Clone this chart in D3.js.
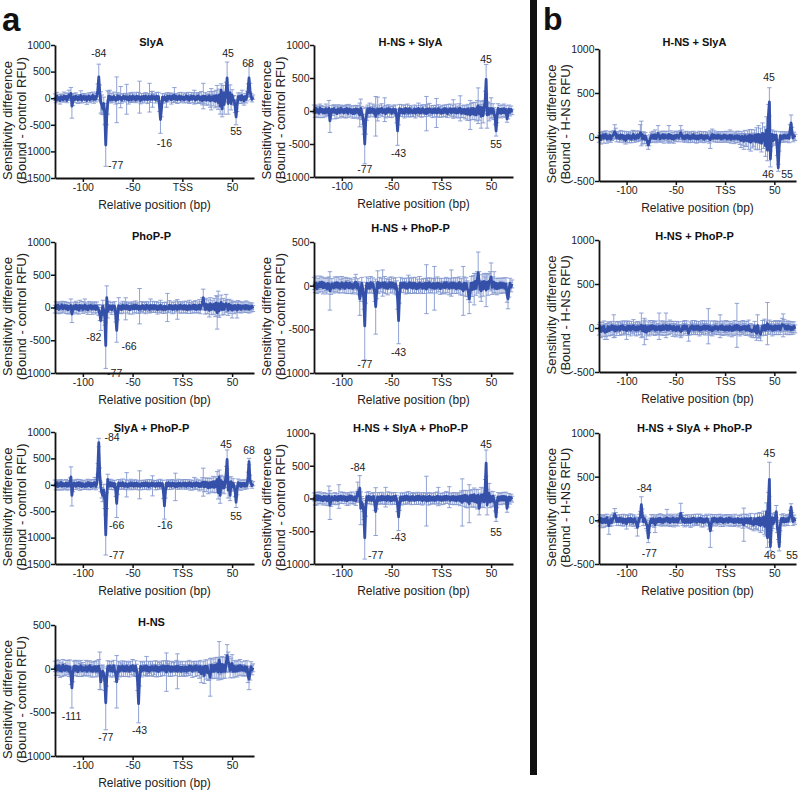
<!DOCTYPE html>
<html>
<head>
<meta charset="utf-8">
<script src="https://cdn.jsdelivr.net/npm/d3@7"></script>
<style>
body { margin: 0; background: #fff; }
svg { font-family: Arial, "Liberation Sans", Helvetica, sans-serif; }
</style>
</head>
<body>
<script>
// positions in bp relative to TSS, one value per position
const positions = d3.range(-128, 72)
const xTicks = [-100, -50, 0, 50]

// ---- a: SlyA ----
const slyaVals = [
  20,-35,40,-20,10,-45,30,5,-30,45,            // -128
  -10,35,-40,25,60,20,90,-150,-60,30,          // -118
  -25,40,10,-35,25,-15,50,-40,20,35,           // -108
  -20,30,-45,15,40,-30,25,-10,55,-25,          // -98
  30,-20,45,150,400,100,-80,-120,-200,-100,    // -88
  -300,-880,-350,-80,40,40,-30,20,-25,35,      // -78
  15,-40,-30,45,-20,30,20,-35,10,40,           // -68
  -15,30,-20,25,-40,35,10,-30,45,-10,          // -58
  20,-35,40,-15,30,20,-45,25,-20,35,           // -48
  -25,40,15,-30,35,10,-20,45,-20,30,           // -38
  25,-30,40,-10,30,-150,-400,-200,20,-35,      // -28
  30,-25,-50,35,-15,40,20,-30,45,-10,          // -18
  60,-20,35,-30,15,40,-25,30,-10,20,           // -8
  -30,25,45,-15,30,-40,20,35,-20,40,           // 2
  20,-35,30,-20,45,10,-30,25,-45,40,           // 12
  -25,35,-40,20,-30,45,-50,-20,30,-35,         // 22
  40,-60,50,40,-80,60,-150,150,-200,100,       // 32
  -120,30,150,380,-100,40,100,-100,60,-40,     // 42
  -40,-150,-350,-150,30,-20,40,-30,50,-25,     // 52
  -50,30,-20,40,150,380,150,30,-20,20          // 62
]
const slyaErrs = [
  60,50,70,40,55,65,50,60,45,70,
  50,60,45,70,90,60,110,225,80,60,
  55,60,50,65,45,70,90,50,60,55,
  60,50,70,45,60,55,80,50,60,70,
  60,50,70,120,240,150,200,180,110,120,
  200,400,150,220,80,110,60,70,50,80,
  60,70,430,60,80,50,200,60,70,50,
  55,60,280,50,70,60,90,50,65,55,
  60,50,70,55,80,300,60,65,70,50,
  50,65,60,70,55,270,60,80,150,50,
  55,60,70,50,80,100,260,150,65,60,
  60,50,120,70,55,60,65,80,50,70,
  140,60,55,70,50,65,60,80,55,60,
  60,70,55,65,80,60,50,70,65,60,
  130,60,70,80,60,90,70,100,80,240,
  80,70,90,60,100,80,120,200,90,110,
  90,120,100,200,130,110,150,120,150,140,
  180,100,150,300,200,90,150,120,100,80,
  90,120,150,100,70,80,60,70,100,60,
  80,60,70,90,120,260,130,60,50,40
]
const slyaLabels = [['-84', -84, 850], ['-77', -67, -1270], ['-16', -18, -840], ['45', 46, 844], ['55', 54, -620], ['68', 66, 660]]

// ---- a: H-NS + SlyA ----
const hnsSlyaVals = [
  30,-25,40,-15,20,-35,45,-10,25,-30,
  15,-30,35,-20,10,40,-150,-40,25,-15,
  35,-20,10,-40,30,15,-25,40,-10,20,
  -30,25,-15,40,-35,20,30,-25,15,-40,
  20,-35,30,-15,25,-40,-60,40,-30,-80,
  -200,-500,-150,-40,30,-25,40,-20,15,35,
  -30,20,-80,-20,30,-35,25,-10,40,-25,
  15,20,-40,30,-20,35,-15,25,-35,10,
  30,-25,20,-80,-300,-90,35,-20,25,-30,
  20,-35,40,-15,25,-30,35,-20,15,-25,
  -20,30,-35,25,-15,40,-30,20,-25,35,
  15,-30,25,-40,30,-20,35,-15,20,-30,
  25,-20,30,-30,-25,35,-20,15,-35,20,
  -25,35,-15,30,-40,20,-10,35,-30,25,
  30,-20,35,-30,15,-25,40,40,-35,20,
  -30,25,-40,20,-50,30,-45,-60,35,-40,
  40,-50,30,-60,50,80,-40,60,-80,50,
  -70,60,150,480,-60,40,-50,30,40,-30,
  30,-40,-100,-300,-80,40,-30,25,-35,30,
  -25,35,-30,20,-120,-40,30,-20,25,-15
]
const hnsSlyaErrs = [
  60,70,50,80,55,65,60,90,50,70,
  55,60,70,50,65,120,175,80,60,55,
  60,100,55,70,65,60,80,50,75,60,
  70,60,90,55,60,80,50,65,60,70,
  60,70,55,90,60,80,180,140,100,120,
  150,300,200,100,60,70,80,60,55,70,
  60,70,300,80,180,60,65,55,70,60,
  60,180,65,55,70,60,80,50,65,60,
  60,55,70,100,220,120,65,60,70,55,
  60,70,55,65,80,60,50,70,60,55,
  65,60,70,55,60,80,50,65,70,60,
  60,55,70,260,65,60,80,55,60,70,
  60,70,55,220,65,60,75,55,60,65,
  60,55,70,65,60,80,55,70,60,65,
  140,60,70,65,60,80,70,190,65,60,
  70,65,80,60,90,70,100,220,80,90,
  90,80,100,90,110,270,100,90,180,100,
  110,100,150,225,200,90,100,80,160,70,
  80,90,100,80,100,70,65,60,70,60,
  60,70,65,60,50,80,60,55,50,40
]
const hnsSlyaLabels = [['45', 45, 790], ['-77', -77, -890], ['-43', -43, -635], ['55', 55, -510]]

// ---- b: H-NS + SlyA (vs H-NS) ----
const bHnsSlyaVals = [
  -20,15,-30,10,25,-15,20,30,-25,5,
  -15,20,-25,10,15,30,60,40,-10,20,
  15,-20,25,-10,20,-25,10,-40,15,-15,
  20,-15,10,-25,15,30,-20,10,-15,25,
  -10,20,50,40,-20,15,-25,10,-30,-50,
  -90,-60,-20,15,-10,20,-15,25,-20,10,
  40,10,-20,15,-10,25,-15,20,-5,15,
  -15,30,-10,20,-20,10,-25,15,-10,20,
  15,-10,20,50,25,-15,10,-20,15,-10,
  20,-15,10,-20,15,-10,25,-15,10,-20,
  10,-20,15,-10,20,-15,10,-25,15,-10,
  15,-10,-20,-30,10,30,-15,20,-10,15,
  -15,20,-10,15,-20,10,-15,20,-10,15,
  -20,10,-15,20,-25,15,-10,-20,10,-15,
  15,-20,10,-25,-40,10,-30,-50,15,-35,
  -40,10,-50,20,-60,15,-45,-30,20,-55,
  25,-50,30,-60,20,-70,40,-40,30,-100,
  80,-150,250,400,-250,-50,30,-40,20,-30,
  20,-150,-350,-100,15,-20,10,-15,20,-10,
  15,-10,20,-15,80,160,50,-10,15,-5
]
const bHnsSlyaErrs = [
  40,35,50,45,40,55,40,40,45,40,
  40,45,35,50,40,45,80,60,45,40,
  45,40,50,35,45,40,55,40,45,50,
  40,50,45,40,55,45,40,50,40,45,
  40,45,90,140,60,45,50,40,45,50,
  50,40,45,40,50,45,40,55,45,40,
  90,45,40,50,45,40,55,45,40,50,
  45,100,40,50,45,40,45,50,40,45,
  40,45,50,80,55,40,45,40,50,45,
  40,50,45,40,45,50,40,45,40,50,
  45,40,50,45,40,45,50,40,45,40,
  40,45,50,100,45,60,40,50,45,40,
  45,40,50,45,40,50,45,40,45,50,
  40,50,45,60,45,50,40,55,45,50,
  50,45,55,60,80,50,70,90,60,70,
  70,60,90,65,100,70,80,75,60,90,
  80,90,100,85,80,100,120,90,85,120,
  150,120,120,160,90,60,50,55,45,50,
  45,60,40,60,45,40,50,45,40,45,
  40,45,40,50,60,90,60,45,40,35
]
const bHnsSlyaLabels = [['45', 44.6, 678], ['46', 43.6, -424], ['55', 63, -424]]

// ---- a: PhoP-P ----
const phopVals = [
  -25,30,-15,35,-30,20,-10,40,-20,15,
  30,-20,25,-35,15,-10,30,-100,-30,20,
  -15,35,-25,20,-40,30,-10,25,-30,15,
  40,-20,15,-35,25,-10,30,-25,20,-15,
  25,-30,20,-15,-40,-100,-200,-80,20,-40,
  -150,-580,150,-60,30,-20,20,-35,25,-10,
  20,-120,-350,-100,30,-25,15,-30,35,-15,
  25,-20,30,-15,20,-35,10,25,-20,30,
  -20,35,-15,25,-30,20,-25,15,30,-20,
  15,-25,35,-10,20,-30,30,-15,25,-20,
  30,-15,20,-35,15,-20,35,-25,10,-30,
  20,-30,15,0,-20,35,-15,25,-30,20,
  -25,30,-10,-30,25,-20,35,-15,20,-25,
  30,-20,25,-35,15,30,-25,20,-15,35,
  -20,35,-30,20,-15,40,-25,30,60,150,
  40,-30,50,-20,35,-45,60,-30,40,-20,
  50,-40,70,-80,60,-50,40,80,-30,50,
  -30,40,60,30,-40,50,-20,30,-40,20,
  -25,30,-20,-40,35,-15,25,-30,20,-10,
  25,-20,30,-15,20,-25,15,-10,20,-15
]
const phopErrs = [
  60,55,70,50,65,60,75,55,60,70,
  60,70,55,65,60,80,100,130,70,60,
  65,60,70,55,60,80,55,65,60,70,
  90,60,55,70,65,60,55,80,60,65,
  60,70,65,60,80,100,150,120,90,80,
  120,350,180,100,65,60,60,70,55,60,
  70,100,180,90,120,60,55,65,60,70,
  60,168,55,70,60,65,55,60,80,55,
  60,65,70,55,60,270,60,75,55,60,
  60,70,55,60,65,55,100,60,70,55,
  55,60,70,65,60,55,75,60,65,60,
  60,55,65,215,60,70,55,60,65,55,
  60,70,55,150,60,65,55,70,60,60,
  65,60,70,55,60,80,65,60,70,55,
  60,70,55,65,60,80,70,60,90,130,
  80,70,90,75,80,100,90,80,70,85,
  90,100,110,250,190,100,90,110,85,90,
  80,70,140,90,80,75,70,80,120,70,
  70,65,60,120,70,60,65,55,60,60,
  60,55,70,60,65,60,55,60,50,45
]
const phopLabels = [['-82', -89, -460], ['-66', -53.5, -600], ['-77', -68, -1010]]

// ---- a: H-NS + PhoP-P ----
const hnsPhopVals = [
  25,-20,30,-35,20,-15,35,-10,40,-25,
  30,-20,15,-35,25,20,-60,-30,20,-15,
  -25,30,-15,35,-20,25,-30,15,35,-20,
  20,-30,35,-15,25,-25,30,-20,15,-30,
  -20,30,40,-25,20,-30,-150,-80,25,-40,
  -150,-460,-100,30,-25,20,-30,35,-15,25,
  -20,-80,-240,-60,40,-25,30,-15,25,30,
  -20,35,-25,20,-30,15,35,-20,30,-15,
  25,-30,20,-25,-150,-400,-100,30,-20,25,
  -15,30,-25,20,-30,20,35,-20,25,-30,
  30,-20,25,-35,15,-25,30,-15,20,-30,
  20,-25,30,-40,25,-15,35,-20,15,-25,
  25,-30,20,-25,30,-15,25,-35,20,-20,
  -20,30,-25,35,-15,20,-30,25,30,-25,
  30,-20,25,-35,20,-25,35,-30,20,-40,
  -60,30,-40,25,-35,-60,-150,-80,30,-45,
  35,-40,50,-30,60,150,50,-40,-60,40,
  -40,50,30,-50,40,-30,50,60,100,-20,
  30,40,-30,25,-35,20,-25,30,-20,25,
  -20,25,-30,20,-100,-150,-50,25,-15,20
]
const hnsPhopErrs = [
  70,60,80,55,65,60,75,60,60,70,
  60,55,70,60,65,80,220,70,60,55,
  60,70,55,65,60,75,55,60,70,60,
  65,55,60,75,60,65,55,70,60,65,
  60,65,90,70,60,75,190,100,70,80,
  120,390,100,70,60,65,55,70,60,65,
  70,100,315,90,130,60,65,55,60,150,
  60,70,65,60,75,55,60,65,70,60,
  60,65,70,80,120,265,100,65,60,55,
  60,55,70,65,60,100,60,70,55,60,
  65,60,70,55,60,65,75,60,55,60,
  60,65,55,280,60,70,55,60,65,60,
  60,250,65,60,70,55,60,65,60,70,
  60,55,70,60,65,60,75,60,150,65,
  60,70,65,55,70,60,65,75,60,70,
  280,70,80,65,90,100,170,110,75,80,
  80,180,90,80,100,235,110,90,120,85,
  80,90,70,190,85,80,90,100,160,80,
  70,120,65,60,70,65,60,55,70,60,
  60,65,55,70,90,115,80,60,55,45
]
const hnsPhopLabels = [['-77', -77, -902], ['-43', -43, -763]]

// ---- b: H-NS + PhoP-P (vs H-NS) ----
const bHnsPhopVals = [
  -20,15,-40,10,-30,20,-50,-25,-40,15,
  -30,10,-20,25,-15,20,-35,15,-25,10,
  15,-25,20,-10,25,-20,10,-15,-30,20,
  -15,20,-25,15,-10,25,-20,10,-25,15,
  -20,15,-10,30,-30,20,-40,25,-50,-20,
  15,-30,20,-15,25,-10,20,-25,15,-20,
  -10,20,-25,15,-20,25,-15,10,30,-20,
  20,-15,25,-10,15,-25,20,-15,-30,15,
  -20,15,-25,-40,-30,20,-15,25,-10,20,
  -25,-60,-20,15,-10,25,-20,15,-15,20,
  -15,20,-25,10,-20,15,-10,25,-15,20,
  -10,20,-20,15,-25,-30,10,-15,20,-10,
  15,-20,10,20,-15,25,-20,10,-25,15,
  -20,15,-25,20,-10,-30,15,-20,25,-15,
  30,-15,20,-25,10,-20,15,-10,20,-25,
  15,-20,25,-30,-20,-40,-25,-35,20,-45,
  -60,30,-40,-50,-70,-30,20,-20,30,-25,
  20,50,-15,25,-10,20,-25,15,-20,25,
  -15,20,-10,25,-20,15,40,30,30,-10,
  20,-15,25,-10,15,-20,10,-15,20,-10
]
const bHnsPhopErrs = [
  60,50,70,55,65,60,80,70,90,55,
  60,55,65,50,60,130,70,55,60,65,
  55,60,50,65,55,60,70,55,100,60,
  60,55,65,60,55,70,60,55,65,60,
  60,55,65,140,70,60,150,65,80,60,
  55,60,65,55,60,70,55,60,65,55,
  60,150,55,65,60,55,70,60,140,60,
  55,60,65,55,60,70,55,65,70,60,
  60,55,65,70,60,55,65,60,55,60,
  60,90,60,55,65,60,55,70,60,55,
  60,55,65,60,55,70,60,55,65,60,
  55,200,60,65,55,60,70,55,60,65,
  60,55,65,130,60,55,65,60,55,70,
  55,60,65,55,60,70,55,65,60,55,
  250,60,55,65,60,55,70,60,55,60,
  60,55,65,60,70,65,60,75,55,65,
  80,120,70,65,75,60,65,60,70,60,
  60,240,55,65,60,55,65,60,55,60,
  60,55,65,60,55,60,70,130,65,60,
  55,60,55,65,60,55,60,55,50,45
]
const bHnsPhopLabels = []

// ---- a: SlyA + PhoP-P ----
const slyaPhopVals = [
  30,-25,40,-35,20,-15,45,-30,25,-20,
  -20,35,-30,25,-15,40,150,-200,-40,30,
  25,-30,35,-20,40,-25,30,-35,20,-15,
  -30,20,-25,40,-15,30,-35,25,-20,35,
  40,-30,20,300,800,200,-40,-150,-200,-100,
  -300,-950,-300,100,30,-25,40,-20,30,-35,
  25,-100,-350,-80,35,-20,30,-25,40,-15,
  -30,25,0,-35,20,-20,35,-15,25,-30,
  30,-20,35,-25,15,0,-30,25,-20,30,
  -25,35,-15,30,-35,20,-20,35,-20,25,
  20,-30,25,-20,35,-25,30,-15,20,-150,
  -400,-120,30,-25,40,-20,25,-30,35,-15,
  25,-40,20,-30,35,-20,30,-25,15,30,
  -20,35,-30,25,-15,40,-25,30,-35,20,
  30,-25,40,-20,30,-35,20,-30,45,50,
  -40,50,-30,40,-60,35,-50,45,-40,60,
  -50,60,-40,100,-150,150,-200,80,-60,50,
  -60,40,200,480,-100,50,-200,60,-40,30,
  -30,-120,-330,-100,40,-20,30,-35,25,-20,
  30,-25,20,-15,150,440,100,25,-15,20
]
const slyaPhopErrs = [
  60,70,55,65,60,80,55,70,60,65,
  60,65,70,55,80,90,190,200,90,60,
  65,60,70,55,60,80,65,55,60,70,
  60,70,55,65,80,60,55,70,60,65,
  100,65,80,100,80,120,90,100,120,110,
  150,380,150,100,70,60,65,70,55,60,
  60,120,270,100,65,70,60,55,70,65,
  60,70,230,60,65,55,70,80,60,55,
  65,60,55,70,60,265,65,60,70,55,
  60,55,70,65,60,80,60,55,190,60,
  60,65,55,70,60,55,75,60,65,110,
  250,130,60,65,55,70,60,55,65,60,
  60,260,65,55,70,60,65,55,60,70,
  60,65,55,70,60,55,75,60,65,60,
  110,60,70,65,60,80,70,65,90,265,
  90,80,100,85,110,90,100,80,95,100,
  100,90,110,150,120,130,150,100,90,110,
  110,90,150,180,150,100,100,90,80,85,
  70,100,100,90,70,65,60,70,65,60,
  65,60,70,60,90,60,80,55,50,40
]
const slyaPhopLabels = [['-84', -70.6, 900], ['-66', -66, -760], ['-77', -66, -1330], ['-16', -17.5, -766], ['45', 44, 772], ['55', 54, -590], ['68', 67, 660]]

// ---- a: H-NS + SlyA + PhoP-P ----
const hnsSlyaPhopVals = [
  25,-30,40,-20,35,-15,30,-25,20,-35,
  30,-20,25,-35,15,40,-100,-40,20,-25,
  -20,30,-25,20,-30,30,-15,35,-20,25,
  30,-25,20,-35,25,-20,35,-15,30,-20,
  -25,20,-35,30,100,40,160,-150,-60,-100,
  -200,-600,-150,30,-20,35,-25,20,-30,25,
  30,-80,-200,-60,25,-30,20,-25,35,-20,
  25,-20,20,-30,35,-15,25,-35,20,-25,
  30,-25,35,-20,-100,-280,-80,25,-30,20,
  -25,30,-20,35,-15,25,-30,20,-25,30,
  20,-30,25,-20,35,-25,30,-15,25,-35,
  30,-20,25,-40,20,-30,35,-25,15,-20,
  25,-30,20,-25,35,30,-20,25,-30,20,
  -25,30,-20,35,-15,25,20,-30,25,-20,
  30,-25,20,-35,25,-20,30,-40,35,-60,
  40,-30,50,-40,35,-50,-80,45,-35,50,
  -40,60,-50,40,-60,50,-150,-30,50,-40,
  60,-50,150,540,-100,40,80,-50,30,-40,
  35,-30,-100,-280,-60,25,-30,20,-25,30,
  -25,30,-20,25,-150,-50,20,-25,15,-10
]
const hnsSlyaPhopErrs = [
  60,70,55,80,60,65,70,55,60,65,
  60,65,55,70,60,150,220,80,60,65,
  65,60,70,55,60,180,60,65,55,70,
  60,55,65,70,60,80,55,60,70,60,
  60,65,70,80,150,100,190,250,90,100,
  120,325,120,65,60,70,55,60,65,60,
  60,100,365,100,65,60,70,55,60,65,
  60,70,150,60,65,55,70,60,65,60,
  60,65,55,70,100,210,100,60,70,65,
  60,55,70,60,65,80,55,60,70,60,
  65,60,55,70,60,65,55,70,60,65,
  60,65,55,380,60,70,55,65,60,55,
  60,55,70,60,65,140,60,55,65,60,
  65,60,55,70,60,65,160,60,55,70,
  60,70,65,55,60,75,60,70,80,360,
  80,90,75,100,85,90,290,80,95,85,
  90,100,85,95,100,90,100,110,120,90,
  100,90,140,200,150,100,150,90,80,85,
  70,80,90,70,80,65,60,55,70,60,
  60,65,60,70,60,80,55,60,50,45
]
const hnsSlyaPhopLabels = [['-84', -84, 470], ['-77', -66, -867], ['-43', -43, -600], ['45', 45, 826], ['55', 55, -515]]

// ---- b: H-NS + SlyA + PhoP-P (vs H-NS) ----
const bHnsSlyaPhopVals = [
  20,-15,25,-30,10,-20,15,-25,30,-10,
  -60,-20,15,-25,20,30,70,40,-15,20,
  -15,25,-10,20,-25,15,-20,10,-40,20,
  15,-20,25,-15,10,-25,20,-10,-30,-80,
  -20,25,40,180,60,-15,20,-10,-40,-60,
  -200,-80,-20,15,-25,20,-30,-50,15,-20,
  20,-15,25,-20,10,-25,15,-10,20,30,
  -15,20,-25,15,-10,25,-20,10,-15,20,
  -20,15,25,80,30,-15,20,-25,10,-20,
  15,-20,10,-25,20,-15,25,-10,15,-20,
  -10,20,-15,25,-20,15,-25,10,-15,20,
  15,-20,-40,-120,-50,20,-15,25,-10,15,
  -20,15,-10,25,-15,20,-25,10,-15,20,
  15,-20,25,-10,20,-15,10,-25,15,-20,
  -15,20,-25,10,-20,15,-30,-50,20,-25,
  20,-30,15,-35,25,-40,-20,-50,20,-35,
  -40,25,-50,30,-60,20,-45,40,-70,-60,
  100,-200,200,470,-300,-60,30,-40,20,40,
  100,-80,-150,-300,-60,20,-15,25,-20,15,
  -15,20,-10,25,60,150,40,-15,20,-10
]
const bHnsSlyaPhopErrs = [
  45,50,40,55,45,60,50,45,40,50,
  100,50,45,40,50,55,65,50,45,40,
  45,40,50,45,40,55,45,50,60,45,
  40,45,50,40,55,45,40,50,60,100,
  50,45,60,90,70,45,40,50,55,60,
  55,60,45,50,40,45,50,90,45,40,
  45,40,50,45,55,40,45,50,40,95,
  40,50,45,40,50,45,55,40,45,50,
  45,40,55,115,60,45,40,50,45,40,
  50,45,40,55,45,50,40,45,55,40,
  45,50,40,45,55,40,50,45,40,50,
  40,45,60,190,70,45,50,40,45,50,
  45,50,40,45,55,40,45,50,40,45,
  50,45,40,55,45,50,40,45,55,40,
  45,40,50,45,40,55,60,190,50,45,
  50,55,45,60,55,65,50,70,55,60,
  65,55,70,60,80,60,75,65,90,120,
  100,110,120,195,50,60,50,55,45,50,
  70,60,70,50,60,45,40,50,45,40,
  40,45,50,45,55,40,50,45,40,35
]
const bHnsSlyaPhopLabels = [['-84', -82, 372], ['-77', -77, -376], ['45', 45, 771], ['46', 45.4, -400], ['55', 68, -400]]

// ---- a: H-NS ----
const hnsVals = [
  25,-20,30,-15,35,-25,20,-30,40,-10,
  -20,30,-15,25,-30,20,-80,-220,-60,25,
  30,-20,25,-35,20,-15,35,-25,15,-20,
  -15,25,-30,20,-20,35,-25,15,-30,20,
  25,-30,20,-25,30,-25,-150,-40,-30,-60,
  -150,-390,-100,25,-20,30,-25,20,-30,35,
  -20,-60,-150,-40,25,-30,20,-15,30,-25,
  20,-25,30,-20,15,-30,25,-15,35,-20,
  -25,30,-20,-150,-400,-100,25,-30,20,-15,
  25,-20,30,-25,15,-30,20,-15,25,-20,
  -15,30,-25,20,-30,15,-20,25,-15,30,
  -20,25,-40,30,-15,25,-30,20,-25,15,
  20,-25,30,-30,25,-20,15,-30,20,-15,
  -25,20,-30,15,-20,30,-15,25,-30,20,
  25,-20,30,-15,20,-35,25,-60,-30,20,
  -80,30,-40,25,-50,-40,-100,40,-30,35,
  -30,40,-20,50,-40,100,30,-40,50,-30,
  40,-30,60,150,80,50,-20,40,60,-30,
  25,-30,20,-25,30,-20,35,-15,25,-20,
  -20,25,-30,20,-80,-120,-50,20,-15,10
]
const hnsErrs = [
  60,55,70,65,60,75,55,60,65,70,
  60,65,55,70,60,80,100,230,90,60,
  65,60,70,55,60,75,60,65,55,60,
  60,70,55,65,60,55,70,60,65,60,
  60,65,70,60,75,215,90,80,70,80,
  100,310,100,65,60,55,70,60,65,60,
  60,90,300,80,60,65,55,70,60,65,
  60,65,55,70,60,65,60,55,70,60,
  65,60,70,100,220,100,60,65,55,60,
  60,65,110,60,70,55,60,65,60,70,
  55,60,70,65,60,55,70,60,65,60,
  60,65,220,60,70,55,60,65,60,55,
  60,55,65,200,60,70,60,55,65,60,
  65,60,55,70,60,65,60,55,70,60,
  60,70,55,65,60,75,70,100,65,60,
  90,70,80,75,85,90,215,80,85,75,
  80,85,90,80,90,210,100,85,90,80,
  90,80,100,125,110,90,85,80,100,75,
  70,65,60,70,65,60,70,60,55,65,
  60,65,55,70,80,120,80,60,55,45
]
const hnsLabels = [['-111', -111.4, -543], ['-77', -77, -790], ['-43', -43, -707]]

const panels = [
  {title: 'SlyA', vals: slyaVals, errs: slyaErrs, labels: slyaLabels, x: 55, w: 199, top: 45, bot: 178, dom: [-1500, 1000], ticks: [1000, 500, 0, -500, -1000, -1500], ylab: '(Bound - control RFU)', titleY: 42},
  {title: 'H-NS + SlyA', vals: hnsSlyaVals, errs: hnsSlyaErrs, labels: hnsSlyaLabels, x: 314, w: 199, top: 45, bot: 177, dom: [-1000, 1000], ticks: [1000, 500, 0, -500, -1000], ylab: '(Bound - control RFU)', titleY: 42},
  {title: 'H-NS + SlyA', vals: bHnsSlyaVals, errs: bHnsSlyaErrs, labels: bHnsSlyaLabels, x: 599, w: 197, top: 49, bot: 181, dom: [-500, 1000], ticks: [1000, 500, 0, -500], ylab: '(Bound - H-NS RFU)', titleY: 42},
  {title: 'PhoP-P', vals: phopVals, errs: phopErrs, labels: phopLabels, x: 55, w: 199, top: 242, bot: 373, dom: [-1000, 1000], ticks: [1000, 500, 0, -500, -1000], ylab: '(Bound - control RFU)', titleY: 236},
  {title: 'H-NS + PhoP-P', vals: hnsPhopVals, errs: hnsPhopErrs, labels: hnsPhopLabels, x: 314, w: 199, top: 242, bot: 373, dom: [-1000, 500], ticks: [500, 0, -500, -1000], ylab: '(Bound - control RFU)', titleY: 228},
  {title: 'H-NS + PhoP-P', vals: bHnsPhopVals, errs: bHnsPhopErrs, labels: bHnsPhopLabels, x: 599, w: 197, top: 240, bot: 372, dom: [-500, 1000], ticks: [1000, 500, 0, -500], ylab: '(Bound - H-NS RFU)', titleY: 236},
  {title: 'SlyA + PhoP-P', vals: slyaPhopVals, errs: slyaPhopErrs, labels: slyaPhopLabels, x: 55, w: 199, top: 432, bot: 564, dom: [-1500, 1000], ticks: [1000, 500, 0, -500, -1000, -1500], ylab: '(Bound - control RFU)', titleY: 428},
  {title: 'H-NS + SlyA + PhoP-P', vals: hnsSlyaPhopVals, errs: hnsSlyaPhopErrs, labels: hnsSlyaPhopLabels, x: 314, w: 199, top: 433, bot: 564, dom: [-1000, 1000], ticks: [1000, 500, 0, -500, -1000], ylab: '(Bound - control RFU)', titleY: 428},
  {title: 'H-NS + SlyA + PhoP-P', vals: bHnsSlyaPhopVals, errs: bHnsSlyaPhopErrs, labels: bHnsSlyaPhopLabels, x: 599, w: 197, top: 433, bot: 564, dom: [-500, 1000], ticks: [1000, 500, 0, -500], ylab: '(Bound - H-NS RFU)', titleY: 428},
  {title: 'H-NS', vals: hnsVals, errs: hnsErrs, labels: hnsLabels, x: 55, w: 199, top: 625, bot: 756, dom: [-1000, 500], ticks: [500, 0, -500, -1000], ylab: '(Bound - control RFU)', titleY: 622}
]

const lineColor = '#3450a8'
const errColor = '#7088c8'

const svg = d3.select('body').append('svg').attr('width', 800).attr('height', 790)

// panel letters and the separator bar
svg.append('text').attr('x', 2).attr('y', 30.5).attr('font-size', 33).attr('font-weight', 'bold').attr('fill', '#111').text('a')
svg.append('text').attr('x', 543).attr('y', 29.5).attr('font-size', 32).attr('font-weight', 'bold').attr('fill', '#111').text('b')
svg.append('rect').attr('x', 530).attr('y', 0).attr('width', 7).attr('height', 775).attr('fill', '#111')

panels.forEach(p => {
  const x = d3.scaleLinear().domain([-128, 72]).range([p.x, p.x + p.w])
  const y = d3.scaleLinear().domain(p.dom).range([p.bot, p.top])
  const g = svg.append('g')
  const pts = positions.map((d, i) => ({pos: d, v: p.vals[i], e: p.errs[i]}))

  // error bars with caps
  g.append('g').attr('opacity', 0.85).selectAll('path')
    .data(pts)
    .enter().append('path')
      .attr('d', d => {
        const cx = x(d.pos), y1 = y(d.v + d.e), y2 = y(d.v - d.e)
        return 'M' + cx + ',' + y1 + 'V' + y2 + 'M' + (cx - 2.2) + ',' + y1 + 'H' + (cx + 2.2) + 'M' + (cx - 2.2) + ',' + y2 + 'H' + (cx + 2.2)
      })
      .attr('fill', 'none').attr('stroke', errColor).attr('stroke-width', 0.9)

  g.append('path')
    .datum(pts)
    .attr('fill', 'none').attr('stroke', lineColor).attr('stroke-width', 2.8)
    .attr('stroke-linejoin', 'round')
    .attr('d', d3.line().x(d => x(d.pos)).y(d => y(d.v)))

  const yAxis = g.append('g').attr('transform', 'translate(' + p.x + ',0)')
    .call(d3.axisLeft(y).tickValues(p.ticks).tickSize(4).tickSizeOuter(0).tickFormat(d => String(d)))
  const xAxis = g.append('g').attr('transform', 'translate(0,' + p.bot + ')')
    .call(d3.axisBottom(x).tickValues(xTicks).tickSize(4).tickSizeOuter(0).tickFormat(d => d === 0 ? 'TSS' : String(d)))
  ;[yAxis, xAxis].forEach(a => {
    a.select('.domain').attr('stroke', '#111').attr('stroke-width', 1.8)
    a.selectAll('.tick line').attr('stroke', '#111').attr('stroke-width', 1.5)
    a.selectAll('.tick text').attr('font-size', 10.5).attr('font-family', 'Arial, "Liberation Sans", sans-serif').attr('fill', '#222')
  })
  yAxis.selectAll('.tick text').attr('x', -4.5)
  xAxis.selectAll('.tick text').attr('y', 6)

  g.append('text').attr('x', p.x + p.w / 2 - 3).attr('y', p.titleY).attr('dy', '0.35em')
    .attr('text-anchor', 'middle').attr('font-size', 11).attr('font-weight', 'bold').attr('fill', '#111').text(p.title)

  g.append('text').attr('x', p.x + p.w / 2).attr('y', p.bot + 27).attr('dy', '0.35em')
    .attr('text-anchor', 'middle').attr('font-size', 12).attr('fill', '#222').text('Relative position (bp)')

  const lab = g.append('g').attr('transform', 'translate(' + (p.x - 55) + ',' + ((p.top + p.bot) / 2 + 9) + ') rotate(-90)')
  lab.append('text').attr('y', 7).attr('dy', '0.35em').attr('text-anchor', 'middle').attr('font-size', 13).attr('fill', '#222').text('Sensitivity difference')
  lab.append('text').attr('y', 21).attr('dy', '0.35em').attr('text-anchor', 'middle').attr('font-size', 13).attr('fill', '#222').text(p.ylab)

  g.selectAll('.ann')
    .data(p.labels)
    .enter().append('text')
      .attr('x', d => x(d[1])).attr('y', d => y(d[2])).attr('dy', '0.35em')
      .attr('text-anchor', 'middle').attr('font-size', 10.5).attr('fill', '#222')
      .text(d => d[0])
})
</script>
</body>
</html>
